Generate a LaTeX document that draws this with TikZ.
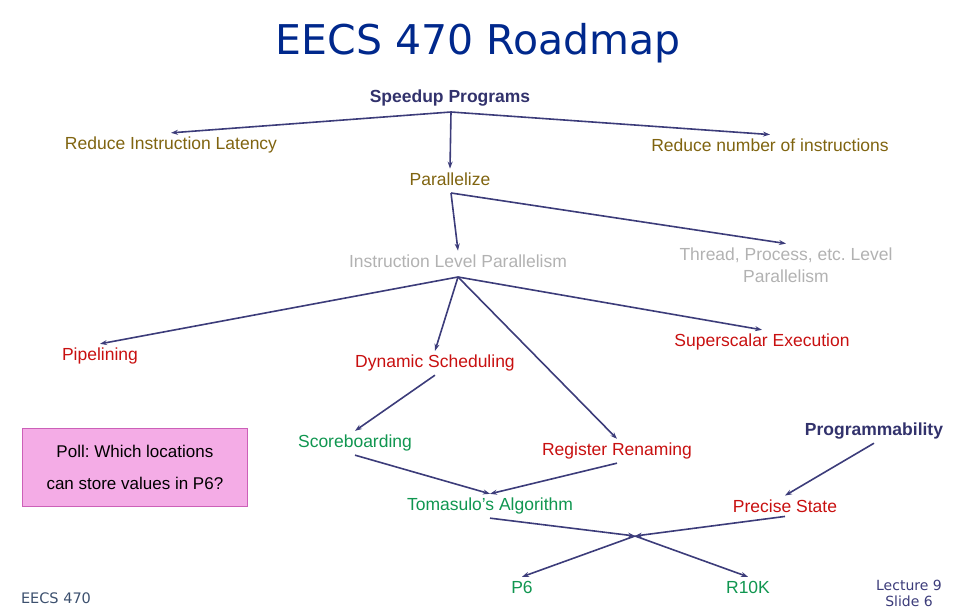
\documentclass[tikz,border=0pt]{standalone}
\usepackage{fontspec}
\setmainfont{Liberation Sans}
\newfontfamily\comicfont{DejaVu Sans}
\usetikzlibrary{arrows.meta}
\frenchspacing
\definecolor{linkblue}{RGB}{60,60,122}
\definecolor{navy}{RGB}{50,50,108}
\definecolor{titleblue}{RGB}{0,40,140}
\definecolor{gold}{RGB}{128,100,16}
\definecolor{lightgray}{RGB}{178,178,178}
\definecolor{topicred}{RGB}{200,16,16}
\definecolor{topicgreen}{RGB}{16,150,80}
\definecolor{pollpink}{RGB}{244,172,230}
\definecolor{polledge}{RGB}{204,96,184}
\begin{document}
\begin{tikzpicture}[x=1pt,y=-1pt,
  lbl/.style={font=\fontsize{17.5}{20}\selectfont,inner sep=1pt,outer sep=3pt,align=center},
  head/.style={lbl,font=\fontsize{17.5}{20}\selectfont\bfseries,text=navy},
  goal/.style={lbl,text=gold},
  faded/.style={lbl,text=lightgray},
  redtopic/.style={lbl,text=topicred},
  greentopic/.style={lbl,text=topicgreen},
  link/.style={draw=linkblue,line width=1.6pt,-{Stealth[length=7pt,width=5pt]}}]
  \useasboundingbox (0,0) rectangle (958,612);
  \node[font=\comicfont\fontsize{41}{46}\selectfont,text=titleblue] (title) at (478,43) {EECS 470 Roadmap};
  % top level
  \node[head] (speedup) at (450,98) {Speedup Programs};
  \node[goal] (latency) at (171,145) {Reduce Instruction Latency};
  \node[goal] (fewer) at (770,145) {Reduce number of instructions};
  \node[goal] (par) at (450,179) {Parallelize};
  \node[faded] (ilp) at (458,261) {Instruction Level Parallelism};
  \node[faded,font=\fontsize{17.5}{22}\selectfont] (tlp) at (786,265) {Thread, Process, etc. Level\\Parallelism};
  % ILP techniques
  \node[redtopic] (pipe) at (100,356) {Pipelining};
  \node[redtopic] (dyn) at (435,363) {Dynamic Scheduling};
  \node[redtopic] (sup) at (762,342) {Superscalar Execution};
  \node[greentopic] (score) at (355,443) {Scoreboarding};
  \node[redtopic] (ren) at (617,451) {Register Renaming};
  \node[head] (prog) at (874,431) {Programmability};
  \node[greentopic] (tom) at (490,506) {Tomasulo's Algorithm};
  \node[redtopic] (prec) at (785,506) {Precise State};
  \node[greentopic] (p6) at (522,587) {P6};
  \node[greentopic] (r10k) at (748,587) {R10K};
  \node[draw=polledge,fill=pollpink,line width=0.8pt,minimum width=225pt,minimum height=78pt,
    font=\fontsize{17}{32}\selectfont,align=center,anchor=north west] (poll) at (22,428)
    {Poll: Which locations\\can store values in P6?};
  \node[font=\comicfont\fontsize{14.5}{16}\selectfont,text={rgb,255:red,60;green,80;blue,110}] (course) at (56,598) {EECS 470};
  \node[font=\comicfont\fontsize{14}{16}\selectfont,text=linkblue,align=center] (slide) at (909,593) {Lecture 9\\Slide 6};
  % forks
  \coordinate (spfork) at (451,112);
  \coordinate (parfork) at (451,193);
  \coordinate (ilpfork) at (458,277);
  \coordinate (merge) at (635,536);
  \draw[link] (spfork) -- (latency.north);
  \draw[link] (spfork) -- (fewer.north);
  \draw[link] (spfork) -- (par.north);
  \draw[link] (parfork) -- (ilp.north);
  \draw[link] (parfork) -- (tlp.north);
  \foreach \t in {pipe,dyn,sup} \draw[link] (ilpfork) -- (\t.north);
  \draw[link] (ilpfork) -- (ren.north);
  \draw[link] (dyn.south) -- (score.north);
  \draw[link] (score.south) -- (tom.north);
  \draw[link] (ren.south) -- (tom.north);
  \draw[link] (prog.south) -- (prec.north);
  \draw[link] (tom.south) -- (merge);
  \draw[link] (prec.south) -- (merge);
  \draw[link] (merge) -- (p6.north);
  \draw[link] (merge) -- (r10k.north);
\end{tikzpicture}
\end{document}
